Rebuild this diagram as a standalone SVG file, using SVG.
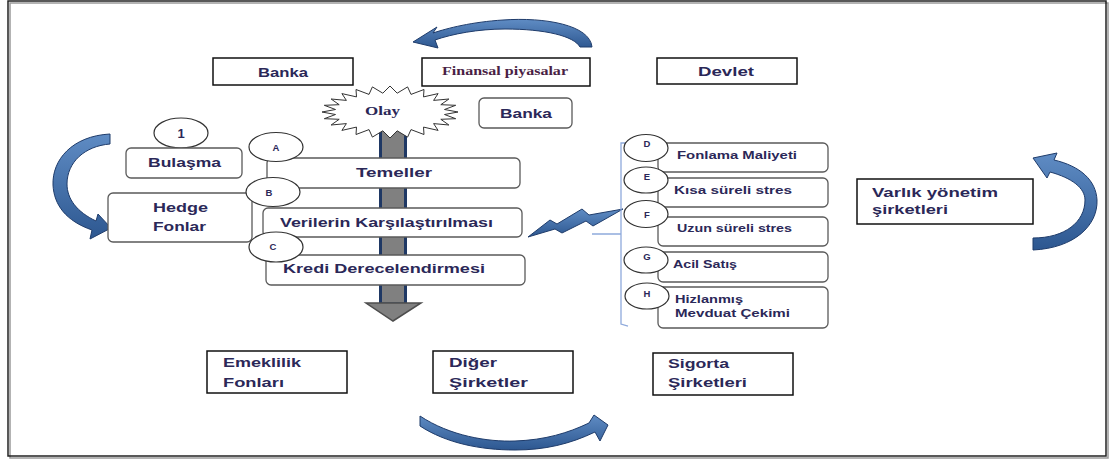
<svg xmlns="http://www.w3.org/2000/svg" width="1113" height="460" viewBox="0 0 1113 460">
<defs>
<linearGradient id="blue" x1="0" y1="0" x2="0" y2="1">
<stop offset="0" stop-color="#5F8CC4"/>
<stop offset="1" stop-color="#2D5790"/>
</linearGradient>
<style>
.sq{fill:#fff;stroke:#111;stroke-width:1.5}
.rd{fill:#fff;stroke:#5a5a5a;stroke-width:1.3}
.cir{fill:#fff;stroke:#333;stroke-width:1.2}
.t{font-family:"Liberation Sans",Arial,sans-serif;font-weight:bold;font-size:13px;fill:#2b2858}
.ts{font-family:"Liberation Sans",Arial,sans-serif;font-weight:bold;font-size:11px;fill:#2b2858}
.tl{font-family:"Liberation Sans",Arial,sans-serif;font-weight:bold;font-size:9.5px;fill:#2b2858}
.serif{font-family:"Liberation Serif","Times New Roman",serif;font-weight:bold;font-size:12px}
.ba{fill:url(#blue);stroke:#1F3C6B;stroke-width:1}
</style>
</defs>
<rect x="0" y="0" width="1113" height="460" fill="#fff"/>
<rect x="10" y="3" width="1098" height="455" fill="none" stroke="#9a9a9a" stroke-width="1.5"/>
<rect x="8" y="1" width="1098" height="455" fill="none" stroke="#222" stroke-width="1.5"/>

<g id="connectors">
  <!-- grey downward arrow -->
  <rect x="380.5" y="122" width="25" height="182" fill="#808080" stroke="#1F3864" stroke-width="3"/>
  <polygon points="366,303 421,303 393,321" fill="#808080" stroke="#4d4d4d" stroke-width="1.5"/>
  <!-- top curved arrow -->
  <path class="ba" d="M592 47 C590 25 545 17 503 20 C472 22 448 28 433 33 L437 27 L413 42 L438 48 L435 40 C452 34 478 29 505 29 C545 29 574 36 580 47 Z"/>
  <!-- left curved arrow -->
  <path class="ba" d="M110 134 C72 136 52 160 53 185 C54 205 66 221 92 230 L90 239 L111 228 L98 214 L96 221 C77 212 67 199 67 184 C67 162 85 146 110 144 Z"/>
  <!-- right curved arrow -->
  <path class="ba" d="M1033 250 C1075 248 1098 225 1097 200 C1096 180 1080 166 1054 160 L1057 153 L1033 158 L1047 178 L1050 172 C1072 178 1085 188 1085 200 C1085 222 1065 238 1033 238 Z"/>
  <!-- bottom curved arrow -->
  <path class="ba" d="M420 416 C450 436 488 442 515 441 C545 440 568 433 589 423 L594 415 L608 425 L600 441 L595 432 C570 444 545 450 515 450 C480 450 446 443 420 426 Z"/>
  <!-- lightning bolt -->
  <polygon class="ba" points="528,237 550,220 557,224 582,209 589,215 623,209 593,226 586,221 562,233 555,229"/>
  <!-- bracket -->
  <path d="M627 143 L621 143 L621 324 L628 326 M592 234 L621 234" fill="none" stroke="#8FAADC" stroke-width="1.3"/>
</g>

<g id="banka1"><rect class="sq" x="213" y="58" width="140" height="27"/><text class="t" x="258" y="77" textLength="50" lengthAdjust="spacingAndGlyphs">Banka</text></g>
<g id="finansal"><rect class="sq" x="422" y="58" width="168" height="28"/><text class="serif" x="442" y="75" fill="#4a1f45" textLength="126" lengthAdjust="spacingAndGlyphs">Finansal piyasalar</text></g>
<g id="devlet"><rect class="sq" x="657" y="58" width="140" height="26"/><text class="t" x="698" y="76" textLength="56" lengthAdjust="spacingAndGlyphs">Devlet</text></g>

<g id="olay">
<polygon fill="#fff" stroke="#333" stroke-width="1" points="458,112 444.5,114.5 455.7,118.7 440.8,119.3 448.9,125 433.6,123.6 438.1,130.4 423.5,127.1 424,134.5 411,129.6 407.6,137.1 397.2,130.8 390,138 382.8,130.8 372.4,137.1 369,129.6 356,134.5 356.5,127.1 341.9,130.4 346.4,123.6 331.1,125 339.2,119.3 324.3,118.7 335.5,114.5 322,112 335.5,109.5 324.3,105.3 339.2,104.7 331.1,99 346.4,100.4 341.9,93.6 356.5,96.9 356,89.5 369,94.4 372.4,86.9 382.8,93.2 390,86 397.2,93.2 407.6,86.9 411,94.4 424,89.5 423.5,96.9 438.1,93.6 433.6,100.4 448.9,99 440.8,104.7 455.7,105.3 444.5,109.5"/>
<text class="serif" x="365" y="115" fill="#2b2858" textLength="35" lengthAdjust="spacingAndGlyphs">Olay</text>
</g>
<g id="banka2"><rect class="rd" x="479" y="98" width="93" height="30" rx="5"/><text class="t" x="500" y="118" textLength="52" lengthAdjust="spacingAndGlyphs">Banka</text></g>

<g id="n1"><ellipse class="cir" cx="181" cy="133" rx="27" ry="15"/><text class="t" x="181" y="138" text-anchor="middle">1</text></g>
<g id="bulasma"><rect class="rd" x="126" y="148" width="116" height="30" rx="5"/><text class="t" x="148" y="167" textLength="73" lengthAdjust="spacingAndGlyphs">Bulaşma</text></g>
<g id="hedge"><rect class="rd" x="108" y="193" width="144" height="49" rx="5"/><text class="t" x="153" y="212" textLength="55" lengthAdjust="spacingAndGlyphs">Hedge</text><text class="t" x="153" y="231" textLength="53" lengthAdjust="spacingAndGlyphs">Fonlar</text></g>

<g id="temeller"><rect class="rd" x="267" y="158" width="253" height="30" rx="5"/><text class="t" x="356" y="177" textLength="76" lengthAdjust="spacingAndGlyphs">Temeller</text></g>
<g id="verilerin"><rect class="rd" x="263" y="208" width="259" height="29" rx="5"/><text class="t" x="280" y="227" textLength="213" lengthAdjust="spacingAndGlyphs">Verilerin Karşılaştırılması</text></g>
<g id="kredi"><rect class="rd" x="266" y="255" width="259" height="30" rx="5"/><text class="t" x="283" y="273" textLength="202" lengthAdjust="spacingAndGlyphs">Kredi Derecelendirmesi</text></g>
<g id="cA"><ellipse class="cir" cx="276" cy="147" rx="27" ry="14.5"/><text class="tl" x="276" y="151" text-anchor="middle">A</text></g>
<g id="cB"><ellipse class="cir" cx="273" cy="192" rx="27" ry="14.5"/><text class="tl" x="269" y="196" text-anchor="middle">B</text></g>
<g id="cC"><ellipse class="cir" cx="276" cy="247" rx="27" ry="15"/><text class="tl" x="273" y="250" text-anchor="middle">C</text></g>

<g id="fonlama"><rect class="rd" x="658" y="143" width="170" height="29" rx="5"/><text class="ts" x="677" y="159" textLength="120" lengthAdjust="spacingAndGlyphs">Fonlama Maliyeti</text></g>
<g id="kisa"><rect class="rd" x="658" y="178" width="170" height="29" rx="5"/><text class="ts" x="674" y="194" textLength="118" lengthAdjust="spacingAndGlyphs">Kısa süreli stres</text></g>
<g id="uzun"><rect class="rd" x="658" y="217" width="170" height="29" rx="5"/><text class="ts" x="677" y="232" textLength="115" lengthAdjust="spacingAndGlyphs">Uzun süreli stres</text></g>
<g id="acil"><rect class="rd" x="658" y="252" width="170" height="30" rx="5"/><text class="ts" x="673" y="268" textLength="64" lengthAdjust="spacingAndGlyphs">Acil Satış</text></g>
<g id="hizlanmis"><rect class="rd" x="658" y="287" width="170" height="41" rx="5"/><text class="ts" x="675" y="303" textLength="68" lengthAdjust="spacingAndGlyphs">Hizlanmış</text><text class="ts" x="675" y="317" textLength="115" lengthAdjust="spacingAndGlyphs">Mevduat Çekimi</text></g>
<g id="cD"><ellipse class="cir" cx="646" cy="148" rx="22" ry="13.5"/><text class="tl" x="647" y="147" text-anchor="middle">D</text></g>
<g id="cE"><ellipse class="cir" cx="646" cy="180" rx="22" ry="13"/><text class="tl" x="647" y="180" text-anchor="middle">E</text></g>
<g id="cF"><ellipse class="cir" cx="646" cy="214" rx="22" ry="13.5"/><text class="tl" x="647" y="218" text-anchor="middle">F</text></g>
<g id="cG"><ellipse class="cir" cx="646" cy="260" rx="22" ry="13"/><text class="tl" x="647" y="260" text-anchor="middle">G</text></g>
<g id="cH"><ellipse class="cir" cx="647" cy="296" rx="22" ry="13"/><text class="tl" x="647" y="297" text-anchor="middle">H</text></g>

<g id="varlik"><rect class="sq" x="857" y="179" width="176" height="45"/><text class="t" x="872" y="197" textLength="126" lengthAdjust="spacingAndGlyphs">Varlık yönetim</text><text class="t" x="872" y="214" textLength="76" lengthAdjust="spacingAndGlyphs">şirketleri</text></g>
<g id="emeklilik"><rect class="sq" x="207" y="351" width="140" height="42"/><text class="t" x="223" y="367" textLength="78" lengthAdjust="spacingAndGlyphs">Emeklilik</text><text class="t" x="223" y="387" textLength="61" lengthAdjust="spacingAndGlyphs">Fonları</text></g>
<g id="diger"><rect class="sq" x="433" y="351" width="140" height="42"/><text class="t" x="449" y="367" textLength="48" lengthAdjust="spacingAndGlyphs">Diğer</text><text class="t" x="449" y="387" textLength="79" lengthAdjust="spacingAndGlyphs">Şirketler</text></g>
<g id="sigorta"><rect class="sq" x="653" y="353" width="140" height="42"/><text class="t" x="668" y="368" textLength="61" lengthAdjust="spacingAndGlyphs">Sigorta</text><text class="t" x="668" y="387" textLength="79" lengthAdjust="spacingAndGlyphs">Şirketleri</text></g>
</svg>
